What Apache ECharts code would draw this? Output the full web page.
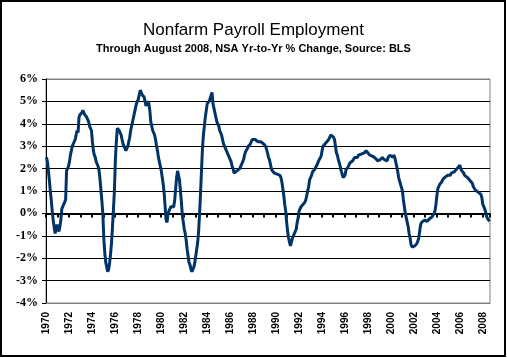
<!DOCTYPE html>
<html><head><meta charset="utf-8">
<script src="https://cdn.jsdelivr.net/npm/echarts@6/dist/echarts.min.js"></script>
<style>html,body{margin:0;padding:0;background:#fff}#c{width:507px;height:358px}</style>
</head><body><div id="c"></div>
<script>
// Nonfarm payroll employment, NSA year-to-year % change, monthly Jan 1970 – Aug 2008
const startYear = 1970;
const pct1970s = [
  2.5, 2.3, 1.9, 1.5, 1.0, 0.6, 0.1, -0.3, -0.6, -0.9, -0.9, -0.5,
  -0.7, -0.8, -0.6, -0.3, 0.2, 0.3, 0.4, 0.5, 0.6, 1.9, 2.0, 2.1,
  2.3, 2.6, 2.8, 3.0, 3.1, 3.2, 3.3, 3.5, 3.7, 3.6, 4.3, 4.4,
  4.4, 4.5, 4.6, 4.5, 4.4, 4.4, 4.3, 4.2, 4.1, 3.9, 3.9, 3.7,
  3.2, 2.8, 2.6, 2.5, 2.3, 2.2, 2.1, 1.9, 1.5, 1.0, 0.5, -0.1,
  -1.2, -1.8, -2.2, -2.4, -2.6, -2.5, -2.2, -1.8, -1.3, -0.6, 0.2, 1.0,
  2.4, 3.2, 3.8, 3.8, 3.7, 3.6, 3.5, 3.3, 3.1, 3.0, 2.9, 2.8,
  2.8, 3.0, 3.2, 3.4, 3.7, 3.9, 4.1, 4.3, 4.5, 4.7, 4.9, 5.0,
  5.1, 5.3, 5.5, 5.4, 5.3, 5.3, 5.2, 5.0, 4.8, 4.9, 5.0, 4.9,
  4.6, 4.1, 3.9, 3.7, 3.6, 3.5, 3.3, 3.0, 2.8, 2.5, 2.3, 2.1
];
const pct1980s = [
  1.9, 1.6, 1.3, 0.9, 0.3, -0.3, -0.4, 0.0, 0.1, 0.2, 0.3, 0.3,
  0.3, 0.3, 0.6, 1.1, 1.6, 1.9, 1.7, 1.5, 1.0, 0.5, -0.1, -0.4,
  -0.7, -0.9, -1.2, -1.6, -1.9, -2.2, -2.3, -2.5, -2.6, -2.6, -2.4, -2.2,
  -1.9, -1.6, -1.3, -0.8, 0.0, 0.9, 1.9, 2.9, 3.5, 3.9, 4.3, 4.6,
  4.9, 4.9, 5.0, 5.0, 5.0, 5.4, 4.9, 4.7, 4.5, 4.3, 4.1, 4.0,
  3.9, 3.7, 3.6, 3.5, 3.3, 3.1, 3.0, 2.9, 2.8, 2.75, 2.6, 2.5,
  2.4, 2.3, 2.1, 2.0, 1.8, 1.8, 1.8, 1.9, 1.9, 1.95, 2.0, 2.1,
  2.2, 2.25, 2.4, 2.6, 2.75, 2.8, 2.9, 3.0, 3.05, 3.1, 3.2, 3.3,
  3.3, 3.25, 3.3, 3.35, 3.3, 3.2, 3.2, 3.25, 3.2, 3.15, 3.2, 3.1,
  3.05, 3.0, 2.95, 2.7, 2.5, 2.4, 2.2, 2.0, 1.9, 1.85, 1.8, 1.8
];
const pct1990s = [
  1.8, 1.75, 1.75, 1.7, 1.7, 1.6, 1.4, 1.1, 0.8, 0.4, 0.1, -0.4,
  -0.8, -1.1, -1.3, -1.45, -1.4, -1.1, -1.0, -0.9, -0.8, -0.7, -0.4, -0.2,
  0.1, 0.2, 0.3, 0.35, 0.4, 0.45, 0.5, 0.6, 0.8, 1.0, 1.2, 1.5,
  1.55, 1.7, 1.85, 1.9, 1.95, 2.0, 2.1, 2.2, 2.3, 2.4, 2.45, 2.55,
  2.8, 3.0, 3.0, 3.1, 3.1, 3.2, 3.25, 3.3, 3.4, 3.5, 3.55, 3.5,
  3.4, 3.3, 3.0, 2.7, 2.6, 2.4, 2.25, 2.1, 1.9, 1.75, 1.6, 1.6,
  1.7, 1.95, 2.0, 2.05, 2.15, 2.25, 2.2, 2.3, 2.35, 2.4, 2.5, 2.5,
  2.55, 2.5, 2.6, 2.6, 2.55, 2.65, 2.65, 2.7, 2.7, 2.75, 2.8, 2.75,
  2.7, 2.65, 2.6, 2.65, 2.6, 2.55, 2.5, 2.55, 2.45, 2.4, 2.35, 2.4,
  2.35, 2.4, 2.45, 2.5, 2.45, 2.4, 2.45, 2.4, 2.35, 2.5, 2.55, 2.6
];
const pct2000s = [
  2.6, 2.55, 2.5, 2.6, 2.5, 2.3, 2.1, 1.9, 1.6, 1.45, 1.3, 1.15,
  1.0, 0.6, 0.3, 0.0, -0.2, -0.4, -0.6, -0.9, -1.1, -1.4, -1.5, -1.55,
  -1.5, -1.45, -1.4, -1.35, -1.25, -1.1, -0.8, -0.5, -0.4, -0.35, -0.35, -0.3,
  -0.3, -0.3, -0.35, -0.3, -0.25, -0.3, -0.2, -0.15, -0.1, 0.0, 0.1, 0.4,
  0.8, 1.1, 1.2, 1.3, 1.35, 1.4, 1.5, 1.55, 1.6, 1.65, 1.65, 1.7,
  1.7, 1.75, 1.7, 1.8, 1.75, 1.8, 1.85, 1.8, 1.9, 2.0, 1.95, 2.05,
  2.15, 2.0, 1.9, 1.85, 1.8, 1.7, 1.7, 1.65, 1.6, 1.6, 1.55, 1.45,
  1.4, 1.35, 1.2, 1.15, 1.05, 1.05, 1.0, 0.95, 0.9, 0.9, 0.85, 0.7,
  0.4, 0.3, 0.2, 0.05, -0.15, -0.2, -0.3, -0.35
];
const titleText = 'Nonfarm Payroll Employment';
const subtitleText = 'Through August 2008, NSA Yr-to-Yr % Change, Source: BLS';
const yMin = -4, yMax = 6, yStep = 1;

const values = [].concat(pct1970s, pct1980s, pct1990s, pct2000s);
const months = values.map((_, i) => {
  const y = startYear + Math.floor(i / 12), m = i % 12 + 1;
  return y + '-' + (m < 10 ? '0' + m : m);
});
const nSplit = (yMax - yMin) / yStep + 1;
const splitColors = [];
for (let i = 0; i < nSplit; i++) splitColors.push(i === 0 || i === nSplit - 1 ? '#808080' : '#000000');

const chart = echarts.init(document.getElementById('c'), null, {renderer: 'canvas'});
chart.setOption({
  animation: false,
  backgroundColor: '#ffffff',
  title: [
    {text: titleText, left: 'center', top: 17,
     textStyle: {fontFamily: 'Liberation Sans, Arial, sans-serif', fontSize: 17, fontWeight: 'normal', color: '#000'}},
    {text: subtitleText, left: 'center', top: 38,
     textStyle: {fontFamily: 'Liberation Sans, Arial, sans-serif', fontSize: 11, fontWeight: 'bold', color: '#000'}}
  ],
  graphic: [{type: 'rect', shape: {x: 1, y: 1, width: 504, height: 355},
             style: {fill: 'none', stroke: '#000', lineWidth: 2}, silent: true, z: 100}],
  grid: {left: 46, right: 17, top: 79, bottom: 55, show: true, borderColor: '#808080', borderWidth: 1, containLabel: false},
  xAxis: [
    {type: 'category', data: months, boundaryGap: true, position: 'bottom',
     axisLine: {onZero: false, lineStyle: {color: '#808080', width: 1}},
     axisTick: {show: false},
     splitLine: {show: false},
     axisLabel: {interval: (i) => i % 24 === 0, rotate: 90, margin: 9,
       formatter: (v) => v.slice(0, 4),
       fontFamily: 'Liberation Sans, Arial, sans-serif', fontSize: 10, fontWeight: 'bold', color: '#000'}},
    {type: 'category', data: months, boundaryGap: true, position: 'bottom',
     axisLine: {onZero: true, lineStyle: {color: '#000', width: 2}},
     axisTick: {show: true, interval: (i) => i % 12 === 0, length: 4, inside: false, lineStyle: {color: '#000', width: 2}},
     axisLabel: {show: false}, splitLine: {show: false}}
  ],
  yAxis: {type: 'value', min: yMin, max: yMax, interval: yStep,
    axisLine: {show: true, lineStyle: {color: '#000', width: 1}},
    axisTick: {show: true, length: 4, lineStyle: {color: '#000'}},
    axisLabel: {formatter: '{value}%', margin: 8,
      fontFamily: 'Liberation Serif, Times New Roman, serif', fontSize: 12, fontWeight: 'bold', color: '#000'},
    splitLine: {show: true, lineStyle: {color: splitColors, width: 1}}},
  series: [{type: 'line', data: values, xAxisIndex: 0, yAxisIndex: 0, showSymbol: false, symbol: 'none',
    lineStyle: {color: '#003366', width: 3}, z: 5}]
});
</script></body></html>
